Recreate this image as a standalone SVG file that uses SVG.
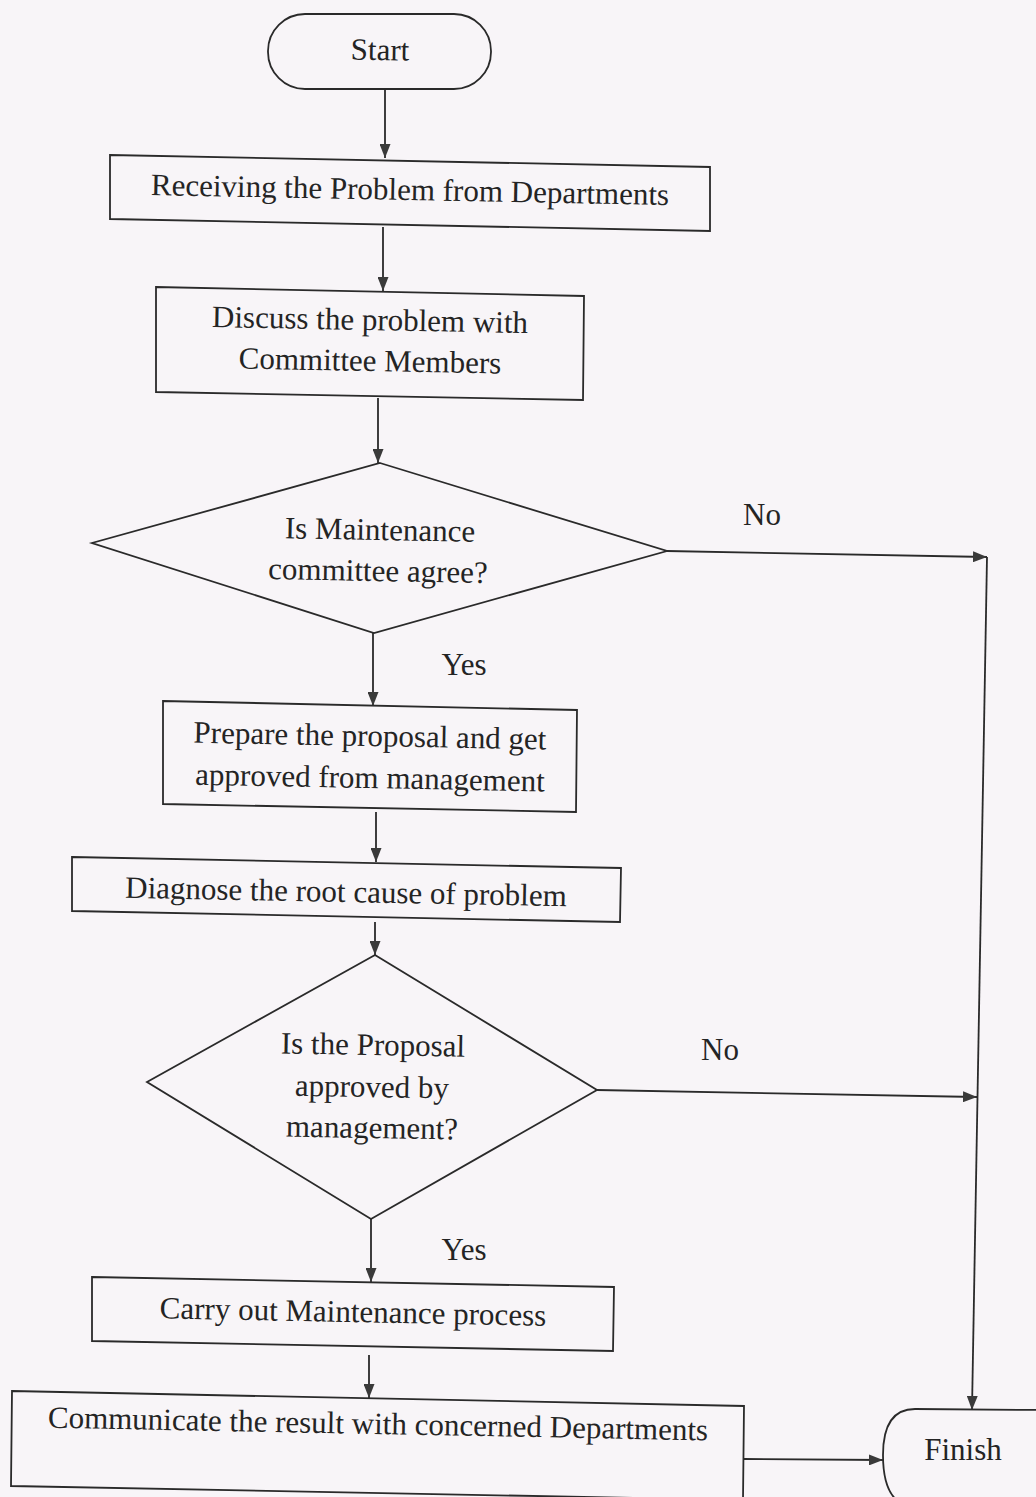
<svg xmlns="http://www.w3.org/2000/svg" width="1036" height="1497" viewBox="0 0 1036 1497">
<defs>
<marker id="ah" viewBox="0 0 14 11" refX="14" refY="5.5" markerWidth="14" markerHeight="11" markerUnits="userSpaceOnUse" orient="auto">
<path d="M0,0 L14,5.5 L0,11 Z" fill="#3a3a3a"/>
</marker>
<style>
.s{fill:none;stroke:#2a2a2a;stroke-width:1.8;stroke-linejoin:miter}
.c{fill:none;stroke:#2a2a2a;stroke-width:1.8;marker-end:url(#ah)}
.t{font-size:31px;fill:#242424;text-anchor:middle}
</style>
</defs>
<rect width="1036" height="1497" fill="#f8f5f8"/>
<g font-family="'Liberation Serif', 'Times New Roman', 'DejaVu Serif', serif">
<g id="start">
<rect class="s" x="268" y="14" width="223" height="75" rx="37" ry="37"/>
<text class="t" x="380" y="60" transform="rotate(1 380 50)">Start</text>
</g>
<g id="receive">
<polygon class="s" points="110,155 710,167 710,231 110,219"/>
<text class="t" x="410" y="200" transform="rotate(1.1 410 190)">Receiving the Problem from Departments</text>
</g>
<g id="discuss">
<polygon class="s" points="156,287 584,296 583,400 156,392"/>
<text class="t" x="370" y="330" transform="rotate(1.1 370 320)">Discuss the problem with</text>
<text class="t" x="370" y="371" transform="rotate(1.1 370 361)">Committee Members</text>
</g>
<g id="decision1">
<polygon class="s" points="380,463 667,551 374,633 92,543"/>
<text class="t" x="380" y="540" transform="rotate(1 380 530)">Is Maintenance</text>
<text class="t" x="378" y="581" transform="rotate(1 378 571)">committee agree?</text>
</g>
<g id="prepare">
<polygon class="s" points="163,701 577,710 576,812 163,804"/>
<text class="t" x="370" y="746" transform="rotate(1.1 370 736)">Prepare the proposal and get</text>
<text class="t" x="370" y="788" transform="rotate(1.1 370 778)">approved from management</text>
</g>
<g id="diagnose">
<polygon class="s" points="72,857 621,868 620,922 72,911"/>
<text class="t" x="346" y="902" transform="rotate(1.1 346 892)">Diagnose the root cause of problem</text>
</g>
<g id="decision2">
<polygon class="s" points="375,955 597,1090 371,1219 147,1082"/>
<text class="t" x="373" y="1055" transform="rotate(1 373 1045)">Is the Proposal</text>
<text class="t" x="372" y="1097" transform="rotate(1 372 1087)">approved by</text>
<text class="t" x="372" y="1138" transform="rotate(1 372 1128)">management?</text>
</g>
<g id="carry">
<polygon class="s" points="92,1277 614,1287 613,1351 92,1341"/>
<text class="t" x="353" y="1322" transform="rotate(1.1 353 1312)">Carry out Maintenance process</text>
</g>
<g id="communicate">
<polygon class="s" points="12,1391 744,1406 743,1500 11,1486"/>
<text class="t" x="378" y="1434" transform="rotate(1.1 378 1424)">Communicate the result with concerned Departments</text>
</g>
<g id="finish">
<path class="s" d="M1040,1410 L915,1409 Q883,1409 883,1455 Q883,1497 905,1505"/>
<text class="t" x="963" y="1460">Finish</text>
</g>
<g id="connectors">
<line class="c" x1="385" y1="89" x2="385" y2="158"/>
<line class="c" x1="383" y1="227" x2="383" y2="291"/>
<line class="c" x1="378" y1="398" x2="378" y2="463"/>
<line class="c" x1="373" y1="633" x2="373" y2="706"/>
<line class="c" x1="376" y1="812" x2="376" y2="862"/>
<line class="c" x1="375" y1="922" x2="375" y2="955"/>
<line class="c" x1="371" y1="1219" x2="371" y2="1282"/>
<line class="c" x1="369" y1="1355" x2="369" y2="1398"/>
<line class="c" x1="667" y1="551" x2="987" y2="557"/>
<polyline class="c" points="987,557 972,1410"/>
<line class="c" x1="597" y1="1090" x2="977" y2="1097"/>
<line class="c" x1="744" y1="1459" x2="883" y2="1460"/>
<text class="t" x="762" y="525">No</text>
<text class="t" x="464" y="675">Yes</text>
<text class="t" x="720" y="1060">No</text>
<text class="t" x="464" y="1260">Yes</text>
</g>
</g>
</svg>
